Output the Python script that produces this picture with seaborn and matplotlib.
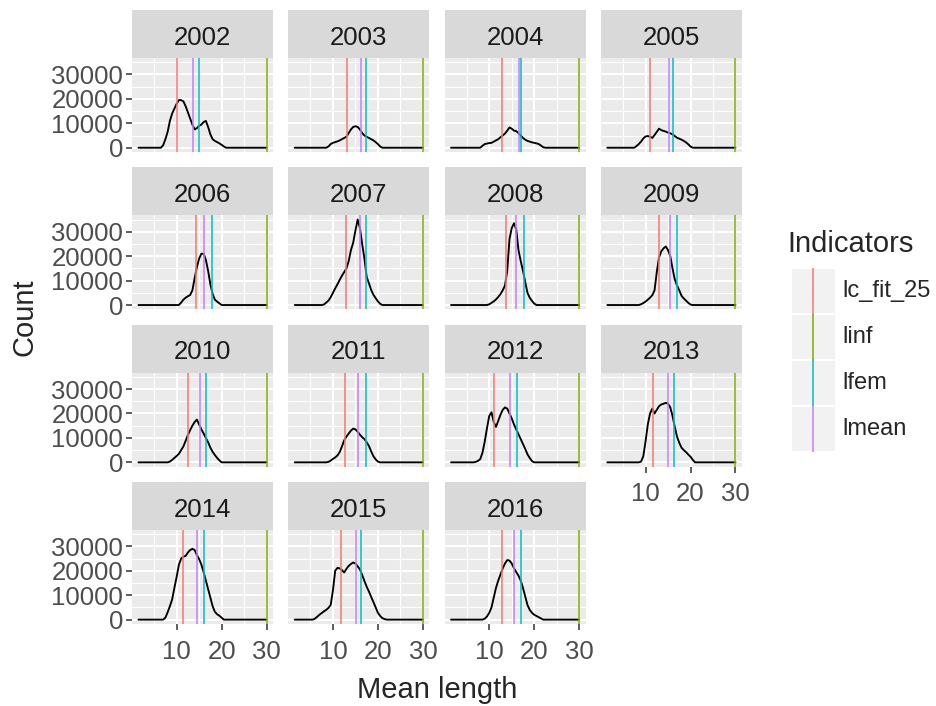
import numpy as np
import pandas as pd
import matplotlib
matplotlib.use("Agg")
import matplotlib.pyplot as plt
from matplotlib.patches import Rectangle
import seaborn as sns

# Years shown as facets
years = [2002, 2003, 2004, 2005, 2006, 2007, 2008, 2009,
         2010, 2011, 2012, 2013, 2014, 2015, 2016]

# Length grid of the curves (cm), counts below start at 5.5 and are 0 outside the lists
length_start = 1.5
length_end = 30.0
length_step = 0.5
curve_start = 5.5

count_2002 = [0, 0, 0, 1000, 3500, 6500, 11000, 14000, 16000, 18000, 19500, 19500, 19000, 17000,
              14500, 12000, 9500, 7500, 8000, 9000, 9500, 10500, 11000, 8500, 5500, 3500, 2800,
              2300, 1800, 1200, 500]
count_2003 = [0, 0, 0, 0, 0, 0, 0, 500, 1500, 2000, 2300, 2600, 3000, 3500, 4000, 4500, 6000, 7500,
              8500, 8800, 8500, 7500, 6000, 5000, 4500, 4000, 3500, 3000, 2300, 1500, 500]
count_2004 = [0, 0, 0, 0, 0, 0, 800, 1500, 1700, 1900, 2000, 2500, 3000, 3500, 4300, 5000, 5800,
              7000, 8300, 7800, 7000, 6800, 6000, 5000, 4000, 3300, 2800, 2500, 2200, 2000, 1800,
              1500, 900, 200]
count_2005 = [0, 0, 0, 0, 0, 700, 1500, 2500, 3800, 4600, 4800, 4500, 4000, 5200, 6500, 7800, 7200,
              6900, 6600, 6200, 5900, 5500, 4800, 4100, 3700, 3300, 2800, 2200, 1400, 500]
count_2006 = [0, 0, 0, 0, 0, 0, 0, 0, 0, 0, 0, 1000, 2200, 3000, 3600, 4100, 6000, 11000, 15500,
              19000, 21000, 21000, 18500, 14000, 8500, 4500, 2200, 1400, 700]
count_2007 = [0, 0, 0, 0, 0, 200, 1000, 1800, 3200, 5000, 6800, 8500, 10300, 12000, 13500, 15000,
              18000, 22500, 25500, 30500, 35000, 31500, 25000, 19000, 11500, 8900, 6200, 4200,
              2800, 1500, 500]
count_2008 = [0, 0, 0, 0, 0, 0, 0, 0, 0, 300, 900, 1500, 2300, 3300, 4500, 6000, 8000, 14000,
              27000, 31500, 33500, 31000, 22500, 18000, 14000, 9500, 5000, 3000, 1700, 600]
count_2009 = [0, 0, 0, 0, 0, 0, 0, 300, 800, 1400, 2200, 3000, 4000, 6000, 13500, 19500, 22000,
              23200, 24000, 22500, 20000, 15000, 10500, 8000, 6000, 3800, 2700, 1800, 900, 200]
count_2010 = [0, 0, 0, 0, 0, 0, 300, 1000, 1800, 2600, 3500, 5000, 6500, 8800, 11200, 13200, 15000,
              16500, 17500, 15500, 13500, 11800, 10000, 8200, 6000, 4300, 3000, 1800, 800]
count_2011 = [0, 0, 0, 0, 0, 0, 0, 200, 700, 1400, 2000, 2800, 4200, 6500, 9000, 10500, 11800,
              13000, 13800, 13500, 12500, 11300, 10300, 9500, 8200, 6700, 4500, 2500, 1200, 300]
count_2012 = [0, 0, 0, 200, 600, 1300, 4000, 8500, 14000, 19000, 20500, 16500, 14500, 17000,
              19500, 21500, 22500, 22000, 20000, 18000, 15500, 13500, 11500, 9500, 7500, 5500,
              3300, 1800, 500]
count_2013 = [0, 0, 0, 0, 0, 0, 0, 300, 2500, 8500, 15500, 20000, 22000, 20000, 21500, 23000,
              23700, 24000, 24400, 24000, 22500, 19000, 14500, 10500, 8000, 6000, 5000, 4200,
              3200, 2300, 1000]
count_2014 = [0, 0, 0, 0, 800, 3000, 5500, 8300, 13000, 17500, 22500, 25000, 25800, 26100, 27500,
              28500, 29000, 28500, 26500, 24800, 22500, 19500, 16000, 12500, 9000, 5500, 3200,
              2200, 1600, 800]
count_2015 = [0, 400, 1200, 2000, 2700, 3400, 4000, 4800, 6000, 12000, 20000, 21200, 21000, 20300,
              19300, 20800, 22000, 22800, 23400, 23000, 21800, 20600, 18300, 15800, 13500, 11500,
              9300, 7200, 5000, 2800, 1500, 600, 200]
count_2016 = [0, 0, 0, 0, 0, 0, 0, 400, 1300, 2800, 5000, 9000, 13000, 16000, 18500, 21000, 23000,
              24400, 24200, 23000, 21000, 19500, 18000, 16000, 13000, 9500, 6000, 4000, 2800, 2000,
              1500, 1000, 500]

counts = [count_2002, count_2003, count_2004, count_2005, count_2006, count_2007, count_2008,
          count_2009, count_2010, count_2011, count_2012, count_2013, count_2014, count_2015,
          count_2016]

# Indicator lengths per year
lc_fit_25 = [10.0, 13.2, 12.85, 11.1, 14.2, 12.85, 13.7, 12.9, 12.55, 12.7, 11.1, 11.7, 11.5, 11.7, 12.8]
linf = [30, 30, 30, 30, 30, 30, 30, 30, 30, 30, 30, 30, 30, 30, 30]
lfem = [15.0, 17.3, 17.0, 16.1, 17.9, 17.4, 17.8, 17.0, 16.55, 17.4, 16.1, 16.4, 16.0, 16.2, 17.0]
lmean = [13.6, 16.3, 16.55, 15.2, 16.05, 16.0, 16.05, 15.5, 15.15, 15.5, 14.7, 15.0, 14.5, 15.2, 15.6]

indicator_names = ["lc_fit_25", "linf", "lfem", "lmean"]
indicator_values = [lc_fit_25, linf, lfem, lmean]
indicator_colors = ["#F8766D", "#7CAE00", "#00BFC4", "#C77CFF"]

# long table for seaborn
lengths = np.arange(length_start, length_end + 0.01, length_step)
i0 = int(round((curve_start - length_start) / length_step))
rows = []
for year, c in zip(years, counts):
    full = np.zeros(len(lengths))
    full[i0:i0 + len(c)] = c
    for L, v in zip(lengths, full):
        rows.append((year, L, v))
df = pd.DataFrame(rows, columns=["year", "length", "count"])

sns.set_theme(style="darkgrid")
plt.rcParams["font.family"] = ["Liberation Sans", "DejaVu Sans"]

W, H = 937, 706
fig = plt.figure(figsize=(W / 100, H / 100), dpi=100)
fig.patch.set_facecolor("white")

tick_size = 18.5
legend_size = 17
title_size = 21

for i, year in enumerate(years):
    r, col = divmod(i, 4)
    left = 132 + col * 156.3
    top = 58 + r * 157.3
    w, h = 141, 94
    ax = fig.add_axes([left / W, 1 - (top + h) / H, w / W, h / H])
    ax.set_facecolor("#EBEBEB")
    sns.lineplot(data=df[df["year"] == year], x="length", y="count", color="black",
                 linewidth=1.35, errorbar=None, ax=ax)
    for vals, color in zip(indicator_values, indicator_colors):
        ax.axvline(vals[i], color=color, linewidth=1.1)
    ax.set_xlim(0.075, 31.425)
    ax.set_ylim(-1750, 36750)
    ax.set_xticks([10, 20, 30])
    ax.set_xticks([5, 15, 25], minor=True)
    ax.set_yticks([0, 10000, 20000, 30000])
    ax.set_yticks([5000, 15000, 25000, 35000], minor=True)
    ax.grid(which="major", color="white", linewidth=1.5)
    ax.grid(which="minor", color="white", linewidth=0.8)
    ax.set_axisbelow(True)
    for s in ax.spines.values():
        s.set_visible(False)
    ax.set_xlabel("")
    ax.set_ylabel("")
    ax.tick_params(which="major", length=4.3, width=1.1, color="#333333",
                   labelsize=tick_size, labelcolor="#4D4D4D")
    ax.tick_params(axis="x", pad=7)
    ax.tick_params(axis="y", pad=2)
    ax.tick_params(which="minor", length=0)
    if col != 0:
        ax.tick_params(axis="y", left=False, labelleft=False)
    else:
        ax.tick_params(axis="y", left=True, labelleft=True)
    if i < 11:
        ax.tick_params(axis="x", bottom=False, labelbottom=False)
    else:
        ax.tick_params(axis="x", bottom=True, labelbottom=True)

    # facet strip
    sax = fig.add_axes([left / W, 1 - top / H, w / W, 48 / H])
    sax.set_facecolor("#D9D9D9")
    sax.set_xticks([])
    sax.set_yticks([])
    sax.grid(False)
    for s in sax.spines.values():
        s.set_visible(False)
    sax.text(0.5, 0.42, str(year), ha="center", va="center", fontsize=tick_size,
             color="#1A1A1A", transform=sax.transAxes)

fig.text(437 / W, 1 - 690 / H, "Mean length", ha="center", va="center", fontsize=title_size)
fig.text(25 / W, 1 - 317 / H, "Count", ha="center", va="center", rotation=90, fontsize=title_size)

# legend
key_h = 46
lax = fig.add_axes([791 / W, 1 - (268 + 4 * key_h) / H, 45 / W, 4 * key_h / H])
lax.set_xlim(0, 1)
lax.set_ylim(4, 0)
lax.axis("off")
for k, (name, color) in enumerate(zip(indicator_names, indicator_colors)):
    lax.add_patch(Rectangle((0, k), 1, 1, facecolor="#F2F2F2", edgecolor="white", linewidth=1.5))
    lax.plot([0.5, 0.5], [k, k + 1], color=color, linewidth=1.1)
    fig.text(842 / W, 1 - (268 + key_h * k + key_h / 2) / H, name, ha="left", va="center",
             fontsize=legend_size)
fig.text(787 / W, 1 - 244 / H, "Indicators", ha="left", va="center", fontsize=title_size)

fig.savefig("out.png", dpi=100)
